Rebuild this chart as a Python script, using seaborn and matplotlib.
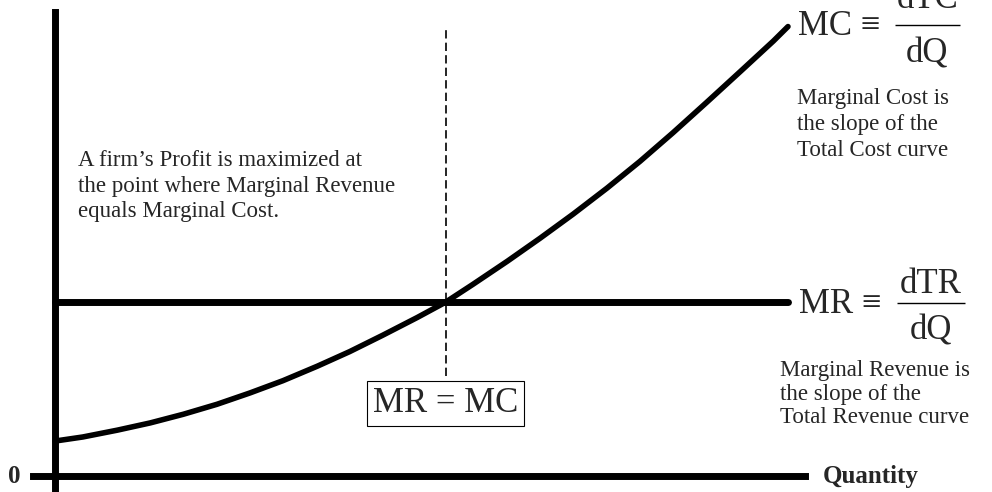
import matplotlib
matplotlib.use("Agg")
import matplotlib.pyplot as plt
import seaborn as sns
import pandas as pd

# ---- data ----
quantity = [0, 3.8, 8.5, 13.0, 17.5, 22.1, 26.6, 31.1, 35.8, 40.2, 44.7, 49.4, 53.3,
            57.0, 61.7, 66.2, 70.7, 75.3, 79.8, 84.3, 88.9, 93.5, 98.0, 100]
marginal_cost = [7.7, 8.6, 10.1, 11.7, 13.6, 15.8, 18.3, 21.0, 24.2, 27.4, 31.0, 34.9, 38.3,
                 42.2, 47.3, 52.4, 57.7, 63.4, 69.3, 75.6, 82.3, 89.1, 95.8, 99.0]
mr_quantity = [0, 100]
marginal_revenue = [38.3, 38.3]
q_star = 53.3
origin_label = "0"
x_label = "Quantity"
eq_label = "MR = MC"
left_note = ["A firm\u2019s Profit is maximized at",
             "the point where Marginal Revenue",
             "equals Marginal Cost."]
mc_note = ["Marginal Cost is", "the slope of the", "Total Cost curve"]
mr_note = ["Marginal Revenue is", "the slope of the", "Total Revenue curve"]

sns.set_theme(style="white")
plt.rcParams["font.family"] = ["Liberation Serif", "DejaVu Serif"]

fig = plt.figure(figsize=(9.92, 4.92), dpi=100)
ax = fig.add_axes([0, 0, 1, 1])
ax.set_xlim(-7.5, 127.83)
ax.set_ylim(-3.52, 104.85)
ax.set_xticks([])
ax.set_yticks([])
for s in ["top", "right"]:
    ax.spines[s].set_visible(False)
ax.spines["left"].set_position(("data", 0))
ax.spines["left"].set_bounds(-3.52, 102.2)
ax.spines["bottom"].set_position(("data", 0))
ax.spines["bottom"].set_bounds(-3.0, 102.3)
for s in ["left", "bottom"]:
    ax.spines[s].set_linewidth(5)
    ax.spines[s].set_color("black")

mc_df = pd.DataFrame({"Q": quantity, "MC": marginal_cost})
mr_df = pd.DataFrame({"Q": mr_quantity, "MR": marginal_revenue})
sns.lineplot(data=mr_df, x="Q", y="MR", ax=ax, color="black", lw=5, sort=False)
sns.lineplot(data=mc_df, x="Q", y="MC", ax=ax, color="black", lw=4, sort=False,
             solid_joinstyle="round")
ax.set_xlabel("")
ax.set_ylabel("")

ax.vlines(q_star, 22.0, 98.2, colors="black", lw=1.2, linestyles=(0, (5, 2.5)))

# labels
ax.text(-5.6, 0, origin_label, ha="center", va="center", fontsize=18, fontweight="bold")
ax.text(104.8, -1.5, x_label, ha="left", va="baseline", fontsize=18, fontweight="bold")
ax.text(q_star, 15.9, eq_label, ha="center", va="center", fontsize=25,
        bbox=dict(boxstyle="square,pad=0.17", fc="white", ec="black", lw=0.8))

for line, p in zip(left_note, [68.3, 62.6, 57.0]):
    ax.text(3.1, p, line, ha="left", va="baseline", fontsize=16.5)
for line, p in zip(mc_note, [82.0, 76.2, 70.5]):
    ax.text(101.2, p, line, ha="left", va="baseline", fontsize=16.5)
for line, p in zip(mr_note, [22.0, 16.7, 11.7]):
    ax.text(98.9, p, line, ha="left", va="baseline", fontsize=16.5)

# MC = dTC/dQ
ax.text(101.4, 97.1, "MC \u2261", ha="left", va="baseline", fontsize=25)
ax.text(119.0, 103.1, "dTC", ha="center", va="baseline", fontsize=25)
ax.hlines(99.3, 114.6, 123.5, colors="black", lw=1)
ax.text(119.0, 91.0, "dQ", ha="center", va="baseline", fontsize=25)

# MR = dTR/dQ
ax.text(101.5, 35.9, "MR \u2261", ha="left", va="baseline", fontsize=25)
ax.text(119.5, 40.3, "dTR", ha="center", va="baseline", fontsize=25)
ax.hlines(38.1, 114.9, 124.1, colors="black", lw=1)
ax.text(119.5, 30.0, "dQ", ha="center", va="baseline", fontsize=25)

fig.savefig("out.png", dpi=100, facecolor="white")
